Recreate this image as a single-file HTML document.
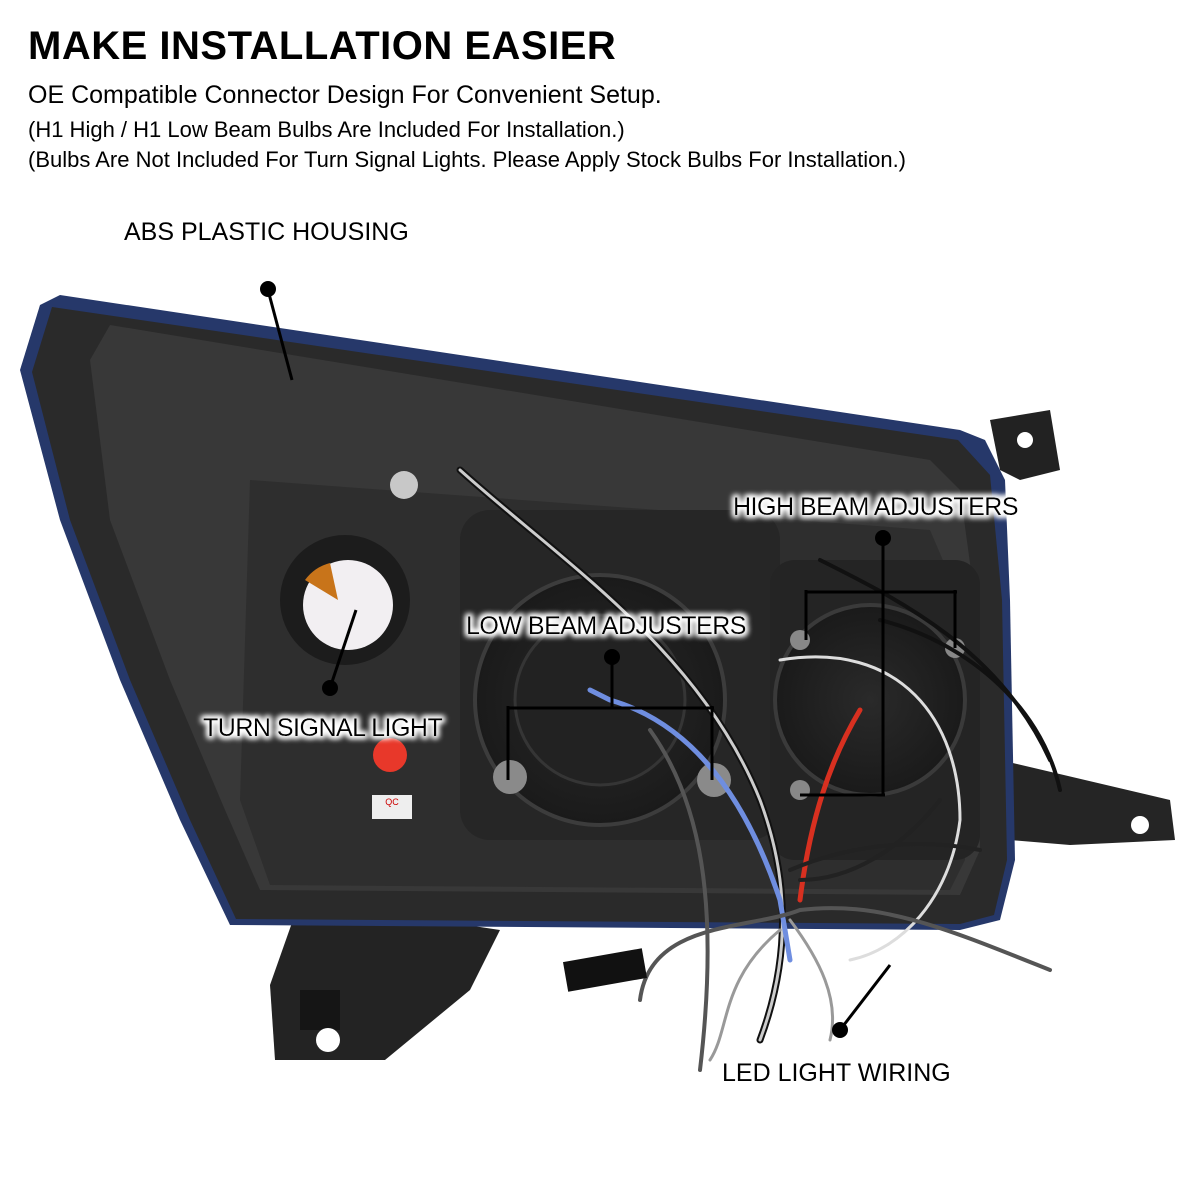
<!DOCTYPE html>
<html><head><meta charset="utf-8"><style>
html,body{margin:0;padding:0;background:#fff;}
body{width:1200px;height:1200px;overflow:hidden;position:relative;font-family:"Liberation Sans",sans-serif;}
.t{position:absolute;left:28px;color:#000;white-space:nowrap;}
</style></head><body>
<div class="t" style="top:24px;font-size:40px;font-weight:bold;letter-spacing:0.5px;">MAKE INSTALLATION EASIER</div>
<div class="t" style="top:81px;font-size:25px;">OE Compatible Connector Design For Convenient Setup.</div>
<div class="t" style="top:117px;font-size:22px;">(H1 High / H1 Low Beam Bulbs Are Included For Installation.)</div>
<div class="t" style="top:147px;font-size:22px;">(Bulbs Are Not Included For Turn Signal Lights. Please Apply Stock Bulbs For Installation.)</div>
<svg width="1200" height="1200" style="position:absolute;left:0;top:0" xmlns="http://www.w3.org/2000/svg">
<defs>
<filter id="glow" x="-10%" y="-40%" width="120%" height="180%"><feMorphology operator="dilate" radius="2" in="SourceAlpha" result="d"/><feGaussianBlur in="d" stdDeviation="3" result="b"/><feFlood flood-color="#fff"/><feComposite in2="b" operator="in" result="w"/><feMerge><feMergeNode in="w"/><feMergeNode in="w"/><feMergeNode in="SourceGraphic"/></feMerge></filter>
<radialGradient id="lens" cx="50%" cy="50%" r="50%"><stop offset="0" stop-color="#2a2a2a"/><stop offset="1" stop-color="#1a1a1a"/></radialGradient>
</defs>
<path d="M990 420 L1050 410 L1060 470 L1020 480 L1000 470 Z" fill="#222"/>
<circle cx="1025" cy="440" r="8" fill="#fff"/>
<path d="M1000 760 L1170 800 L1175 840 L1070 845 L1010 840 Z" fill="#252525"/>
<circle cx="1140" cy="825" r="9" fill="#fff"/>
<path d="M300 900 L500 930 L470 990 L385 1060 L275 1060 L270 985 Z" fill="#232323"/>
<rect x="300" y="990" width="40" height="40" fill="#151515"/>
<circle cx="328" cy="1040" r="12" fill="#fff"/>
<path d="M20 370 L40 305 L60 295 L960 430 L985 440 L1005 480 L1010 600 L1015 860 L1000 920 L960 930 L230 925 L180 820 L120 680 L60 520 Z" fill="#26386a"/>
<path d="M32 372 L52 307 L958 440 L990 475 L1002 600 L1007 860 L994 915 L960 924 L236 919 L190 820 L130 680 L70 520 Z" fill="#2a2a2a"/>
<path d="M90 360 L110 325 L930 460 L960 490 L975 600 L980 850 L960 895 L260 890 L225 810 L170 680 L110 520 Z" fill="#383838"/>
<path d="M250 480 L930 530 L960 600 L965 860 L950 890 L270 885 L240 800 Z" fill="#2e2e2e"/>
<rect x="460" y="510" width="320" height="330" rx="30" fill="#262626"/>
<circle cx="600" cy="700" r="125" fill="url(#lens)" stroke="#3c3c3c" stroke-width="4"/>
<circle cx="600" cy="700" r="85" fill="#222" stroke="#353535" stroke-width="3"/>
<rect x="770" y="560" width="210" height="300" rx="25" fill="#242424"/>
<circle cx="870" cy="700" r="95" fill="url(#lens)" stroke="#3a3a3a" stroke-width="4"/>
<circle cx="345" cy="600" r="65" fill="#1c1c1c"/>
<circle cx="348" cy="605" r="45" fill="#f2eff2"/>
<path d="M305 580 A45 45 0 0 1 330 563 L338 600 Z" fill="#c8741a"/>
<circle cx="404" cy="485" r="14" fill="#c8c8c8"/>
<circle cx="390" cy="755" r="17" fill="#e8382a"/>
<rect x="372" y="795" width="40" height="24" fill="#eee"/>
<text x="392" y="805" font-size="9" text-anchor="middle" fill="#c00">QC</text>
<circle cx="510" cy="777" r="17" fill="#8a8a8a"/><circle cx="714" cy="780" r="17" fill="#8a8a8a"/>
<circle cx="800" cy="640" r="10" fill="#888"/><circle cx="955" cy="648" r="10" fill="#888"/>
<circle cx="800" cy="790" r="10" fill="#888"/>
<g fill="none" stroke-linecap="round">
<path d="M460 470 C560 560 700 650 760 800 C790 880 790 960 760 1040" stroke="#111" stroke-width="7"/>
<path d="M460 470 C560 560 700 650 760 800 C790 880 790 960 760 1040" stroke="#ccc" stroke-width="3"/>
<path d="M590 690 L610 700 C680 720 740 780 780 900 L790 960" stroke="#6f8ee0" stroke-width="5"/>
<path d="M860 710 C830 760 810 820 800 900" stroke="#d83020" stroke-width="5"/>
<path d="M880 620 C960 640 1040 700 1060 790 M820 560 C900 600 1000 650 1050 760" stroke="#111" stroke-width="4"/>
<path d="M780 660 C900 640 960 720 960 820 C950 900 900 950 850 960" stroke="#ddd" stroke-width="3"/>
<path d="M650 730 C700 800 720 900 700 1070 M800 910 C750 930 650 920 640 1000 M800 910 C880 900 950 930 1050 970" stroke="#555" stroke-width="4"/>
<path d="M790 920 C820 960 840 1000 830 1040 M780 930 C720 980 730 1030 710 1060" stroke="#999" stroke-width="3"/>
<path d="M800 880 C850 880 900 850 940 800 M790 870 C860 840 930 840 980 850" stroke="#222" stroke-width="4"/>
</g>
<rect x="565" y="955" width="80" height="30" fill="#111" transform="rotate(-10 605 970)"/>
<g stroke="#000" stroke-width="3" fill="none">
<path d="M268 290 L292 380"/>
<path d="M356 610 L330 688"/>
<path d="M612 657 L612 708 M508 708 L714 708 M508 706 L508 780 M712 706 L712 780"/>
<path d="M883 538 L883 795 M805 592 L957 592 M806 590 L806 640 M955 590 L955 648 M800 795 L885 795"/>
<path d="M840 1030 L890 965"/>
</g>
<g fill="#000"><circle cx="268" cy="289" r="8"/><circle cx="330" cy="688" r="8"/><circle cx="612" cy="657" r="8"/><circle cx="883" cy="538" r="8"/><circle cx="840" cy="1030" r="8"/></g>
<g font-family="Liberation Sans, sans-serif" font-size="25" fill="#000">
<text x="124" y="240">ABS PLASTIC HOUSING</text>
<text x="722" y="1081">LED LIGHT WIRING</text>
</g>
<g font-family="Liberation Sans, sans-serif" font-size="25" fill="#000" filter="url(#glow)" letter-spacing="-0.5">
<text x="733" y="515">HIGH BEAM ADJUSTERS</text>
<text x="466" y="634">LOW BEAM ADJUSTERS</text>
<text x="203" y="736">TURN SIGNAL LIGHT</text>
</g>
</svg>
</body></html>
